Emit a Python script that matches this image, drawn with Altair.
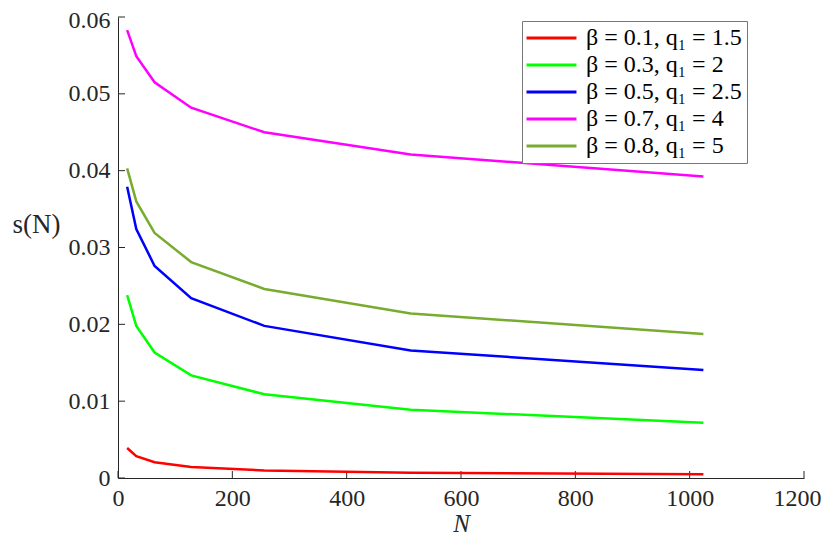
import altair as alt
import pandas as pd

N = [16, 32, 64, 128, 256, 512, 1024]
labels = ["β = 0.1, q₁ = 1.5", "β = 0.3, q₁ = 2", "β = 0.5, q₁ = 2.5",
          "β = 0.7, q₁ = 4", "β = 0.8, q₁ = 5"]
s_red = [0.0039, 0.00283, 0.00206, 0.00142, 0.00099, 0.00068, 0.00048]
s_green = [0.0238, 0.0198, 0.01634, 0.01335, 0.0109, 0.00888, 0.0072]
s_blue = [0.0379, 0.0324, 0.0276, 0.0234, 0.0198, 0.0166, 0.01407]
s_magenta = [0.0583, 0.0549, 0.0515, 0.0482, 0.0450, 0.0421, 0.03925]
s_olive = [0.0403, 0.0360, 0.0319, 0.0281, 0.0246, 0.0214, 0.01875]
colors = ["#FF0000", "#00FF00", "#0000FF", "#FF00FF", "#77AC30"]
x_ticks = [0, 200, 400, 600, 800, 1000, 1200]
y_ticks = [0, 0.01, 0.02, 0.03, 0.04, 0.05, 0.06]

series = [s_red, s_green, s_blue, s_magenta, s_olive]
rows = []
for lab, vals in zip(labels, series):
    for n, v in zip(N, vals):
        rows.append({"N": n, "s": v, "series": lab})
df = pd.DataFrame(rows)

W, H = 686, 461
FONT = "Liberation Serif"
AX = "#262626"

xscale = alt.Scale(domain=[0, 1200], nice=False)
yscale = alt.Scale(domain=[0, 0.06], nice=False)

lines = alt.Chart(df).mark_line(strokeWidth=2.5).encode(
    x=alt.X("N:Q", scale=xscale,
            axis=alt.Axis(values=x_ticks, tickSize=0, labelPadding=8, grid=False,
                          format="d",
                          labelOffset={"condition": {"test": "datum.value == 1200", "value": -7},
                                       "value": 0},
                          title="N", titleFontStyle="italic", titleFontWeight="normal",
                          titleFontSize=25, titlePadding=1, labelFontSize=24,
                          labelFlush=False, labelFont=FONT, titleFont=FONT)),
    y=alt.Y("s:Q", scale=yscale,
            axis=alt.Axis(values=y_ticks, tickSize=0, labelPadding=8, grid=False,
                          format="~g", title="s(N)", titleAngle=0, titleAlign="right",
                          titleBaseline="middle", titleX=-58, titleY=207,
                          labelOffset={"condition": {"test": "datum.value >= 0.059", "value": 3},
                                       "value": 0},
                          titleFontWeight="normal", titleFontSize=27, labelFontSize=24,
                          labelFont=FONT, titleFont=FONT)),
    color=alt.Color("series:N", sort=labels,
                    scale=alt.Scale(domain=labels, range=colors),
                    legend=alt.Legend(title=None, orient="none", legendX=404, legendY=4,
                                      symbolType="M-2,0L6,0", symbolStrokeWidth=3,
                                      symbolSize=156, labelFontSize=24, labelFont=FONT,
                                      fillColor="white", strokeColor="#777777",
                                      padding=5, rowPadding=3, labelOffset=35,
                                      labelColor="#000000")),
)

xt = pd.DataFrame({"x": x_ticks})
yt = pd.DataFrame({"y": y_ticks})

xtick_marks = alt.Chart(xt).mark_rule(color=AX, strokeWidth=1).encode(
    x=alt.X("x:Q", scale=xscale),
    y=alt.value(H), y2=alt.value(H - 7),
)
ytick_marks = alt.Chart(yt).mark_rule(color=AX, strokeWidth=1).encode(
    y=alt.Y("y:Q", scale=yscale),
    x=alt.value(0), x2=alt.value(7),
)

chart = alt.layer(xtick_marks, ytick_marks, lines).properties(
    width=W, height=H,
    background="white",
    autosize=alt.AutoSizeParams(type="none"),
    padding={"left": 110, "top": 9, "right": 18, "bottom": 61},
).configure_view(stroke=None).configure_axis(
    domainColor=AX, labelColor=AX, titleColor=AX, labelFont=FONT, titleFont=FONT,
    domainWidth=1,
)

chart.save("out.html", embed_options={"renderer": "svg", "actions": False})
